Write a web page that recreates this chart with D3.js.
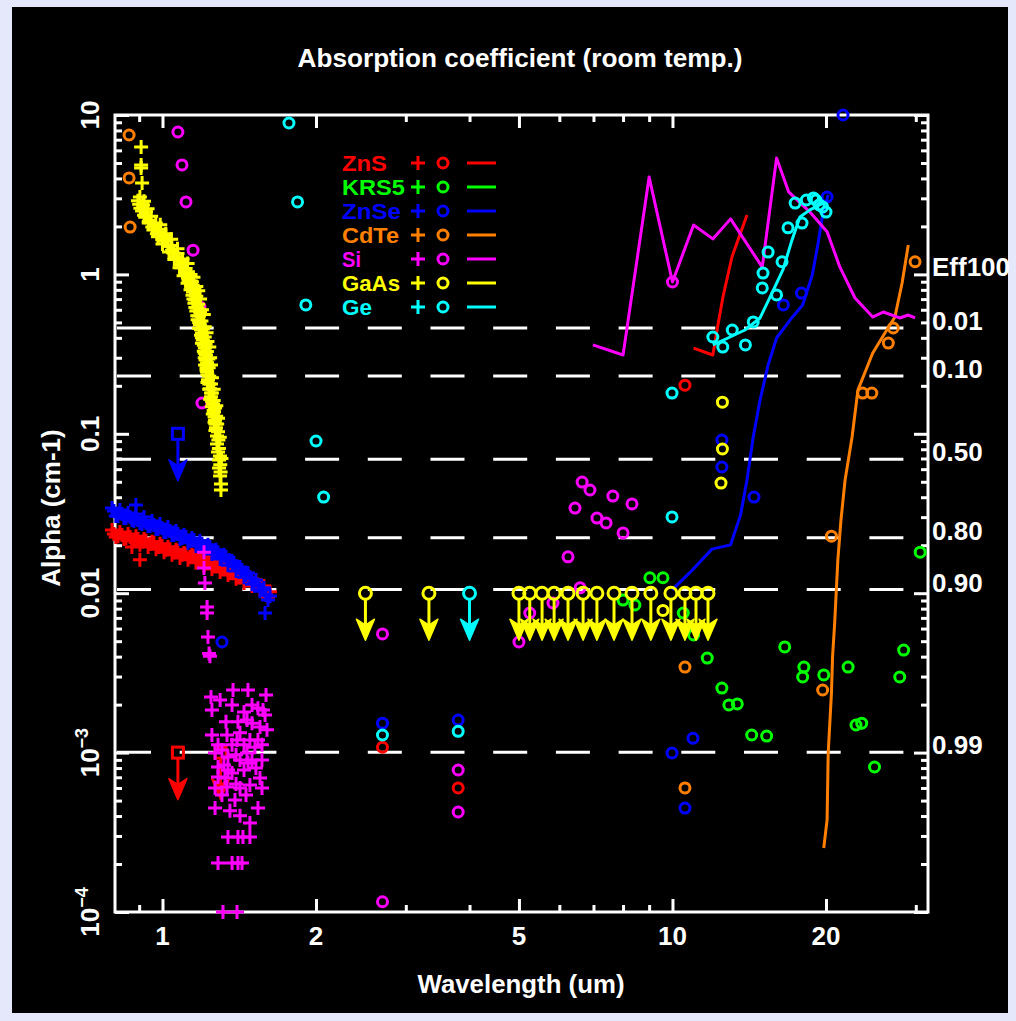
<!DOCTYPE html>
<html>
<head>
<meta charset="utf-8">
<script src="https://cdn.jsdelivr.net/npm/d3@7"></script>
<style>
  html, body { margin: 0; padding: 0; background: #e4e8fa; }
  svg { display: block; }
  text { font-family: "Liberation Sans", Arial, sans-serif; font-weight: bold; }
</style>
</head>
<body>
<svg id="chart" width="1016" height="1021"></svg>
<script>
// Absorption coefficient alpha (cm-1) versus wavelength (um) for IR window materials.
// Each point is [wavelength_um, alpha_cm-1].

const materials = ["ZnS", "KRS5", "ZnSe", "CdTe", "Si", "GaAs", "Ge"];
const colors = ["#ff0000", "#00ff00", "#0000ff", "#ff8000", "#ff00ff", "#ffff00", "#00ffff"];

// ZnS
const znsPlus = [
  [0.796,0.0249],[0.810,0.0225],[0.825,0.0242],[0.840,0.0219],[0.856,0.0235],[0.871,0.0213],[0.887,0.0228],[0.903,0.0201],[0.920,0.0219],[0.937,0.0195],[0.954,0.0210],[0.971,0.0189],[0.989,0.0204],[1.007,0.0181],[1.025,0.0195],[1.044,0.0174],[1.063,0.0187],[1.082,0.0166],[1.102,0.0179],[1.122,0.0162],[1.142,0.0174],[1.163,0.0155],[1.184,0.0166],[1.206,0.0148],[1.228,0.0159],[1.250,0.0142],[1.273,0.0153],[1.297,0.0136],[1.320,0.0144],[1.344,0.0130],[1.369,0.0138],[1.394,0.0123],[1.419,0.0130],[1.445,0.0116],[1.471,0.0125],[1.498,0.0111],[1.525,0.0121],[1.553,0.0105],[1.581,0.0111],[1.610,0.00947],[1.625,0.0102],[0.903,0.0162],[0.871,0.0195],
  [0.803,0.0235],[0.818,0.0228],[0.833,0.0232],[0.848,0.0222],[0.864,0.0225],[0.879,0.0216],[0.895,0.0219],[0.912,0.0210],[0.928,0.0213],[0.945,0.0204],[0.962,0.0207],[0.980,0.0195],[0.998,0.0198],[1.016,0.0187],[1.034,0.0189],[1.053,0.0181],[1.072,0.0184],[1.092,0.0174],[1.112,0.0176],[1.132,0.0169],[1.153,0.0171],[1.174,0.0162],[1.195,0.0164],[1.217,0.0157],[1.239,0.0159],[1.262,0.0150],[1.285,0.0153],[1.308,0.0144],[1.332,0.0146],[1.356,0.0138],[1.381,0.0138],[1.406,0.0130],[1.432,0.0130],[1.458,0.0125],[1.484,0.0125],[1.512,0.0116],[1.539,0.0113],[1.567,0.0106],[1.596,0.0100]
];
const znsCircle = [[2.70,0.00108],[3.80,0.0006],[10.58,0.202]];
const znsLine = [[11.0,0.345],[12.0,0.312],[12.23,0.448],[12.56,0.721],[13.08,1.286],[14.0,2.36]];
const znsLimit = [[1.072,0.001],[1.30,0.001]];

// KRS5
const krs5Circle = [[9.03,0.0125],[9.58,0.0125],[8.0,0.00906],[8.44,0.00843],[10.5,0.00751],[11.0,0.00547],[11.7,0.00392],[12.5,0.00254],[12.9,0.00199],[13.4,0.00202],[14.3,0.00129],[15.3,0.00127],[16.6,0.0046],[18.1,0.00344],[18.0,0.00298],[19.8,0.00307],[22.1,0.00344],[22.9,0.00149],[23.5,0.00153],[24.9,0.000812],[28.4,0.0044],[27.9,0.00298],[30.6,0.0181]];

// ZnSe
const znsePlus = [
  [0.796,0.0342],[0.810,0.0305],[0.825,0.0333],[0.840,0.0296],[0.856,0.0318],[0.871,0.0288],[0.887,0.0314],[0.903,0.0276],[0.920,0.0301],[0.937,0.0264],[0.954,0.0284],[0.971,0.0253],[0.989,0.0272],[1.007,0.0242],[1.025,0.0260],[1.044,0.0232],[1.063,0.0246],[1.082,0.0219],[1.102,0.0232],[1.122,0.0207],[1.142,0.0222],[1.163,0.0198],[1.184,0.0213],[1.206,0.0187],[1.228,0.0201],[1.250,0.0176],[1.273,0.0187],[1.297,0.0164],[1.320,0.0174],[1.344,0.0150],[1.369,0.0159],[1.394,0.0138],[1.419,0.0146],[1.445,0.0126],[1.471,0.0134],[1.498,0.0114],[1.525,0.0121],[1.553,0.0103],[1.581,0.0108],[1.610,0.00906],[1.625,0.0096],[0.887,0.0357],[1.589,0.00751],
  [0.803,0.0328],[0.818,0.0305],[0.833,0.0314],[0.848,0.0296],[0.864,0.0301],[0.879,0.0284],[0.895,0.0288],[0.912,0.0272],[0.928,0.0276],[0.945,0.0264],[0.962,0.0268],[0.980,0.0253],[0.998,0.0256],[1.016,0.0242],[1.034,0.0246],[1.053,0.0232],[1.072,0.0235],[1.092,0.0222],[1.112,0.0225],[1.132,0.0213],[1.153,0.0216],[1.174,0.0201],[1.195,0.0204],[1.217,0.0192],[1.239,0.0195],[1.262,0.0181],[1.285,0.0181],[1.308,0.0169],[1.332,0.0169],[1.356,0.0159],[1.381,0.0155],[1.406,0.0144],[1.432,0.0140],[1.458,0.0130],[1.484,0.0126],[1.512,0.0116],[1.539,0.0113],[1.567,0.0105],[1.596,0.00974]
];
const znseCircle = [[1.308,0.00494],[2.70,0.00153],[3.80,0.0016],[9.98,0.000994],[10.97,0.00123],[10.58,0.000449],[12.5,0.0914],[12.5,0.0619],[14.45,0.0401],[16.5,0.643],[17.9,0.764],[20.1,3.06],[21.6,10.0]];
const znseLine = [[9.98,0.0105],[10.8,0.0134],[11.95,0.0189],[13.0,0.0201],[13.6,0.031],[14.0,0.0513],[14.4,0.0955],[14.85,0.163],[15.4,0.27],[16.0,0.399],[17.0,0.517],[18.0,0.643],[18.8,0.991],[19.3,1.57],[19.7,2.36],[20.2,3.15]];
const znseLimit = [[1.072,0.1]];

// CdTe
const cdteCircle = [[0.86,7.49],[0.86,4.03],[0.864,1.98],[10.58,0.00344],[10.58,0.0006],[19.7,0.00247],[20.5,0.0228],[23.6,0.18],[24.6,0.18],[26.5,0.371],[27.1,0.461],[29.9,1.2]];
const cdteLine = [[19.8,0.000252],[20.1,0.000378],[20.2,0.000994],[20.5,0.00237],[20.6,0.00398],[20.8,0.0065],[21.1,0.0162],[21.4,0.0288],[21.8,0.0513],[22.5,0.0955],[23.1,0.188],[24.7,0.321],[26.1,0.429],[27.3,0.54],[28.2,0.883],[29.0,1.53]];

// Si
const siPlus = [
  [1.206,0.0181],[1.206,0.0144],[1.211,0.0116],[1.223,0.00819],[1.223,0.00751],[1.228,0.00531],[1.234,0.00419],[1.239,0.00402],[1.245,0.00223],[1.250,0.00185],[1.596,0.0023],[1.574,0.00185],[1.539,0.0019],[1.250,0.00129],[1.338,0.00129],[1.400,0.0012],[1.465,0.0016],[1.498,0.00153],[1.553,0.00145],[1.603,0.00139],[1.419,0.00133],[1.484,0.0012],[1.518,0.00108],[1.268,0.000994],[1.308,0.00104],[1.344,0.000938],[1.465,0.000994],[1.567,0.000899],[1.285,0.000812],[1.344,0.000778],[1.419,0.000899],[1.471,0.000861],[1.285,0.000703],[1.326,0.000693],[1.369,0.000745],[1.553,0.000693],[1.268,0.0006],[1.338,0.000608],[1.419,0.0006],[1.567,0.0006],[1.268,0.000449],[1.387,0.000504],[1.539,0.000449],[1.484,0.000362],[1.344,0.000295],[1.406,0.000295],[1.438,0.000295],[1.484,0.000295],[1.285,0.000203],[1.369,0.000203],[1.406,0.000203],[1.432,0.000203],[1.314,0.0001],[1.400,0.0001],
  [1.297,0.00214],[1.369,0.00199],[1.445,0.0018],[1.498,0.00199],[1.406,0.00156],[1.332,0.00156],[1.285,0.00112],[1.369,0.00112],[1.445,0.00112],[1.539,0.0012],[1.394,0.00097],[1.498,0.000899],[1.320,0.000836],[1.445,0.000778],[1.525,0.0008],[1.394,0.000636],[1.484,0.000626],[1.308,0.000542],[1.458,0.000542],[1.356,0.000431],[1.419,0.000401],[1.589,0.00172],[1.567,0.00112],[1.375,0.00247],[1.471,0.00247]
];
const siCircle = [[1.072,7.82],[1.092,4.86],[1.112,2.85],[1.148,1.42],[1.184,0.624],[1.195,0.156],[2.70,0.00555],[2.70,0.000116],[3.80,0.000778],[3.80,0.000424],[5.0,0.00494],[6.65,0.0498],[6.89,0.0444],[7.64,0.0407],[8.33,0.0363],[6.44,0.0342],[7.11,0.0296],[7.41,0.0276],[8.0,0.0239],[6.24,0.0169],[6.59,0.0108],[5.83,0.00868],[5.25,0.00751],[10.0,0.896]];
const siLine = [[6.98,0.361],[8.0,0.312],[9.0,4.08],[10.0,0.896],[11.0,2.04],[12.0,1.67],[13.0,2.23],[15.0,1.11],[16.0,5.37],[16.9,3.29],[18.6,2.46],[20.1,1.85],[21.3,1.11],[22.8,0.711],[24.7,0.54],[25.9,0.581],[27.9,0.533],[29.0,0.556],[29.9,0.533]];

// GaAs
const gaasPlus = [
  [0.908,6.30],[0.908,4.86],[0.908,4.65],[0.912,3.74],[0.903,3.06],[0.916,2.73],[0.928,2.46],[0.945,2.19],[0.967,2.01],[0.989,1.85],[1.016,1.62],[1.044,1.42],[1.068,1.29],[1.092,1.15],[1.107,1.035],[1.122,0.949],[1.137,0.858],[1.148,0.776],[1.158,0.691],[1.169,0.616],[1.179,0.548],[1.184,0.481],[1.195,0.429],[1.200,0.388],[1.211,0.345],[1.217,0.312],[1.223,0.279],[1.223,0.245],[1.228,0.218],[1.239,0.192],[1.245,0.171],[1.256,0.154],[1.262,0.137],[1.268,0.122],[1.273,0.109],[1.279,0.0969],[1.279,0.0863],[1.285,0.0769],[1.291,0.0685],[1.291,0.0610],[1.297,0.0543],[1.302,0.0484],[1.302,0.0444],
  [0.99,2.05],[1.015,1.80],[1.04,1.66],[1.07,1.45],[1.095,1.25],[1.12,1.17],[1.135,1.00],[1.15,0.96],[1.165,0.84],[1.175,0.79],[1.185,0.70],[1.195,0.60],[1.205,0.56],[1.21,0.47],[1.22,0.43],[1.225,0.38],[1.235,0.35],[1.24,0.30],[1.245,0.27],[1.25,0.225],[1.26,0.19],[1.275,0.15],[1.285,0.125],[1.295,0.095],[1.305,0.07],
  [0.895,2.9],[0.905,2.6],[0.92,2.35],[0.94,2.1],[0.96,1.9],[0.98,1.72],[1.0,1.55],[1.03,1.38],[1.055,1.24],[1.08,1.10],[1.10,0.98],[1.12,0.88],[1.135,0.80],[1.15,0.70],[1.16,0.62],[1.17,0.55],[1.18,0.50],[1.19,0.45],[1.195,0.40],[1.205,0.36],[1.21,0.32],[1.215,0.29],[1.22,0.26],[1.225,0.235],[1.235,0.205],[1.245,0.18],[1.25,0.16],[1.26,0.14],[1.265,0.128],[1.27,0.115],
  [0.92,2.88],[0.935,2.58],[0.95,2.32],[0.97,2.10],[0.99,1.92],[1.015,1.73],[1.043,1.52],[1.07,1.35],[1.093,1.22],[1.11,1.09],[1.127,0.99],[1.142,0.90],[1.155,0.815],[1.165,0.73],[1.175,0.65],[1.185,0.58],[1.192,0.51],[1.2,0.455],[1.21,0.405],[1.215,0.365],[1.222,0.328],[1.23,0.295],[1.232,0.26],[1.235,0.23],[1.245,0.205],[1.25,0.18],[1.26,0.162],[1.268,0.145],[1.274,0.129],[1.28,0.115],[1.285,0.103],[1.287,0.0915],[1.29,0.081],[1.296,0.0725],[1.298,0.064],[1.3,0.0575],
  [0.9,2.75],[0.912,2.5],[0.925,2.28],[0.94,2.15],[0.955,1.98],[0.975,1.8],[1.0,1.65],[1.025,1.5],[1.05,1.36],[1.075,1.24],[1.09,1.1],[1.11,1.0],[1.125,0.92],[1.138,0.83],[1.145,0.74],[1.155,0.66],[1.165,0.59],[1.172,0.52],[1.18,0.46],[1.19,0.415],[1.195,0.37],[1.205,0.33],[1.21,0.3],[1.212,0.27],[1.22,0.25],[1.225,0.21],[1.235,0.19],[1.24,0.165],[1.25,0.148],[1.255,0.133],[1.265,0.118],[1.27,0.105]
];
const gaasCircle = [[12.53,0.158],[12.53,0.0803],[12.45,0.0491],[9.58,0.0078]];
const gaasLimit = [[2.5,0.01],[3.33,0.01],[5.0,0.01],[5.25,0.01],[5.55,0.01],[5.86,0.01],[6.24,0.01],[6.68,0.01],[7.11,0.01],[7.68,0.01],[8.33,0.01],[9.07,0.01],[9.93,0.01],[10.58,0.01],[11.12,0.01],[11.74,0.01]];

// Ge
const geCircle = [[1.77,8.91],[1.84,2.85],[1.91,0.643],[2.0,0.0901],[2.07,0.0401],[2.70,0.00129],[3.80,0.00136],[9.98,0.180],[9.98,0.0301],[12.0,0.405],[12.55,0.35],[13.1,0.448],[13.9,0.361],[14.4,0.503],[15.4,1.38],[16.4,1.2],[15.05,1.02],[15.0,0.822],[16.0,0.743],[16.85,1.96],[17.95,2.1],[17.4,2.8],[18.3,2.93],[18.9,3.02],[19.1,2.93],[19.7,2.65],[20.0,2.46],[19.4,2.73]];
const geLine = [[12.0,0.361],[12.85,0.399],[13.87,0.448],[14.85,0.533],[15.67,0.764],[16.47,1.07],[17.15,1.64],[17.78,2.29],[18.6,2.54],[19.73,2.80]];
const geLimit = [[4.0,0.01]];

// Tick values and labels
const xMajorTicks = [1, 2, 5, 10, 20];
const xMinorTicks = [0.9, 3, 4, 6, 7, 8, 9, 30];
const xTickLabels = ["1", "2", "5", "10", "20"];
const yMajorTicks = [1e-4, 1e-3, 0.01, 0.1, 1, 10];
const yTickLabels = [["10", "−4"], ["10", "−3"], ["0.01", ""], ["0.1", ""], ["1", ""], ["10", ""]];

// Transmission efficiency reference levels for a 10 cm path
const pathLengthCm = 10;
const effLevels = [0.01, 0.10, 0.50, 0.80, 0.90, 0.99];
const effLabels = ["0.01", "0.10", "0.50", "0.80", "0.90", "0.99"];

// ---------------------------------------------------------------
const svg = d3.select("#chart");
svg.append("rect").attr("x", 12).attr("y", 7).attr("width", 996).attr("height", 1006).attr("fill", "#000");

const frame = { left: 115, right: 928, top: 115, bottom: 912 };
const x = d3.scaleLog().domain([0.807, 31.7]).range([frame.left, frame.right]);
const y = d3.scaleLog().domain([1e-4, 10]).range([frame.bottom, frame.top]);

const yMinorTicks = [];
[1e-4, 1e-3, 1e-2, 1e-1, 1].forEach(d => { for (let k = 2; k <= 9; k++) yMinorTicks.push(k * d); });

// Efficiency reference lines
const effLayer = svg.append("g");
effLevels.forEach((e, i) => {
  const a = -Math.log(e) / pathLengthCm;
  effLayer.append("line").attr("x1", frame.left + 2).attr("x2", frame.right).attr("y1", y(a)).attr("y2", y(a))
    .attr("stroke", "#fff").attr("stroke-width", 3).attr("stroke-dasharray", "34,28.7");
  effLayer.append("text").attr("x", 932).attr("y", y(a) + 2).attr("fill", "#fff")
    .attr("font-size", 26).text(effLabels[i]);
});
effLayer.append("text").attr("x", 932).attr("y", y(-Math.log(0.01) / pathLengthCm) - 52)
  .attr("fill", "#fff").attr("font-size", 26).text("Eff100");

// Axes: ticks point inward on all four sides
function styleAxis(g) {
  g.select(".domain").remove();
  g.selectAll("line").attr("stroke", "#fff").attr("stroke-width", 3);
}
const axes = svg.append("g");
axes.append("g").attr("transform", `translate(0,${frame.bottom})`).call(d3.axisBottom(x).tickValues(xMajorTicks).tickSize(-13).tickFormat("")).call(styleAxis);
axes.append("g").attr("transform", `translate(0,${frame.bottom})`).call(d3.axisBottom(x).tickValues(xMinorTicks).tickSize(-7).tickFormat("")).call(styleAxis);
axes.append("g").attr("transform", `translate(0,${frame.top})`).call(d3.axisTop(x).tickValues(xMajorTicks).tickSize(-13).tickFormat("")).call(styleAxis);
axes.append("g").attr("transform", `translate(0,${frame.top})`).call(d3.axisTop(x).tickValues(xMinorTicks).tickSize(-7).tickFormat("")).call(styleAxis);
axes.append("g").attr("transform", `translate(${frame.left},0)`).call(d3.axisLeft(y).tickValues(yMajorTicks).tickSize(-14).tickFormat("")).call(styleAxis);
axes.append("g").attr("transform", `translate(${frame.left},0)`).call(d3.axisLeft(y).tickValues(yMinorTicks).tickSize(-7).tickFormat("")).call(styleAxis);
axes.append("g").attr("transform", `translate(${frame.right},0)`).call(d3.axisRight(y).tickValues(yMajorTicks).tickSize(-14).tickFormat("")).call(styleAxis);
axes.append("g").attr("transform", `translate(${frame.right},0)`).call(d3.axisRight(y).tickValues(yMinorTicks).tickSize(-7).tickFormat("")).call(styleAxis);
axes.append("rect").attr("x", frame.left).attr("y", frame.top)
  .attr("width", frame.right - frame.left).attr("height", frame.bottom - frame.top)
  .attr("fill", "none").attr("stroke", "#fff").attr("stroke-width", 3);

// Tick labels
xMajorTicks.forEach((v, i) => {
  axes.append("text").attr("x", x(v)).attr("y", 945).attr("text-anchor", "middle")
    .attr("fill", "#fff").attr("font-size", 26).text(xTickLabels[i]);
});
yMajorTicks.forEach((v, i) => {
  const t = axes.append("text").attr("transform", `translate(99,${y(v)}) rotate(-90)`)
    .attr("text-anchor", "middle").attr("fill", "#fff").attr("font-size", 26);
  t.append("tspan").text(yTickLabels[i][0]);
  if (yTickLabels[i][1]) t.append("tspan").attr("dy", -11).attr("font-size", 18).text(yTickLabels[i][1]);
});

// Titles
svg.append("text").attr("x", 520).attr("y", 67).attr("text-anchor", "middle").attr("fill", "#fff")
  .attr("font-size", 26).attr("textLength", 445).attr("lengthAdjust", "spacingAndGlyphs")
  .text("Absorption coefficient (room temp.)");
svg.append("text").attr("x", 521).attr("y", 993).attr("text-anchor", "middle").attr("fill", "#fff")
  .attr("font-size", 26).attr("textLength", 207).attr("lengthAdjust", "spacingAndGlyphs")
  .text("Wavelength (um)");
svg.append("text").attr("transform", "translate(60,508) rotate(-90)").attr("text-anchor", "middle")
  .attr("fill", "#fff").attr("font-size", 26).text("Alpha (cm-1)");

// ---------------------------------------------------------------
// Data marks
const plot = svg.append("g");
const lineGen = d3.line().x(d => x(d[0])).y(d => y(d[1]));

function drawLine(data, color) {
  plot.append("path").datum(data).attr("d", lineGen).attr("fill", "none")
    .attr("stroke", color).attr("stroke-width", 3).attr("stroke-linejoin", "round");
}
function drawPlus(data, color) {
  plot.append("g").selectAll("path").data(data).join("path")
    .attr("transform", d => `translate(${x(d[0])},${y(d[1])})`)
    .attr("d", "M-7,0H7M0,-7V7").attr("stroke", color).attr("stroke-width", 3);
}
function drawCircle(data, color) {
  plot.append("g").selectAll("circle").data(data).join("circle")
    .attr("cx", d => x(d[0])).attr("cy", d => y(d[1])).attr("r", 5)
    .attr("fill", "none").attr("stroke", color).attr("stroke-width", 3);
}
// Upper limits: symbol at the limit value with a downward arrow
function drawLimit(data, color, shape) {
  const g = plot.append("g").selectAll("g").data(data).join("g")
    .attr("transform", d => `translate(${x(d[0])},${y(d[1])})`);
  g.append("line").attr("x1", 0).attr("x2", 0).attr("y1", 5).attr("y2", 36)
    .attr("stroke", color).attr("stroke-width", 3);
  g.append("path").attr("d", "M0,47L-9,26L0,32L9,26Z").attr("fill", color)
    .attr("stroke", color).attr("stroke-width", 1.5).attr("stroke-linejoin", "round");
  if (shape === "square") {
    g.append("rect").attr("x", -5.5).attr("y", -5.5).attr("width", 11).attr("height", 11)
      .attr("fill", "none").attr("stroke", color).attr("stroke-width", 3);
  } else {
    g.append("circle").attr("r", 6).attr("fill", "none").attr("stroke", color).attr("stroke-width", 3);
  }
}

// ZnS
drawLine(znsLine, colors[0]);
drawPlus(znsPlus, colors[0]);
drawCircle(znsCircle, colors[0]);
drawLimit(znsLimit, colors[0], "square");
// KRS5
drawCircle(krs5Circle, colors[1]);
// ZnSe
drawLine(znseLine, colors[2]);
drawPlus(znsePlus, colors[2]);
drawCircle(znseCircle, colors[2]);
drawLimit(znseLimit, colors[2], "square");
// CdTe
drawLine(cdteLine, colors[3]);
drawCircle(cdteCircle, colors[3]);
// Si
drawLine(siLine, colors[4]);
drawPlus(siPlus, colors[4]);
drawCircle(siCircle, colors[4]);
// GaAs
drawPlus(gaasPlus, colors[5]);
drawCircle(gaasCircle, colors[5]);
drawLimit(gaasLimit, colors[5], "circle");
// Ge
drawLine(geLine, colors[6]);
drawCircle(geCircle, colors[6]);
drawLimit(geLimit, colors[6], "circle");

// ---------------------------------------------------------------
// Legend
const legend = svg.append("g");
const legendWidths = [45, 63, 59, 57, 19, 58, 30];
materials.forEach((m, i) => {
  const cy = 163 + i * 24;
  const c = colors[i];
  legend.append("text").attr("x", 342).attr("y", cy + 8).attr("fill", c).attr("font-size", 21.5)
    .attr("textLength", legendWidths[i]).attr("lengthAdjust", "spacingAndGlyphs").text(m);
  legend.append("path").attr("transform", `translate(418,${cy})`).attr("d", "M-7,0H7M0,-7V7")
    .attr("stroke", c).attr("stroke-width", 3);
  legend.append("circle").attr("cx", 443).attr("cy", cy).attr("r", 5).attr("fill", "none")
    .attr("stroke", c).attr("stroke-width", 3);
  legend.append("line").attr("x1", 467).attr("x2", 496).attr("y1", cy).attr("y2", cy)
    .attr("stroke", c).attr("stroke-width", 3);
});
</script>
</body>
</html>
